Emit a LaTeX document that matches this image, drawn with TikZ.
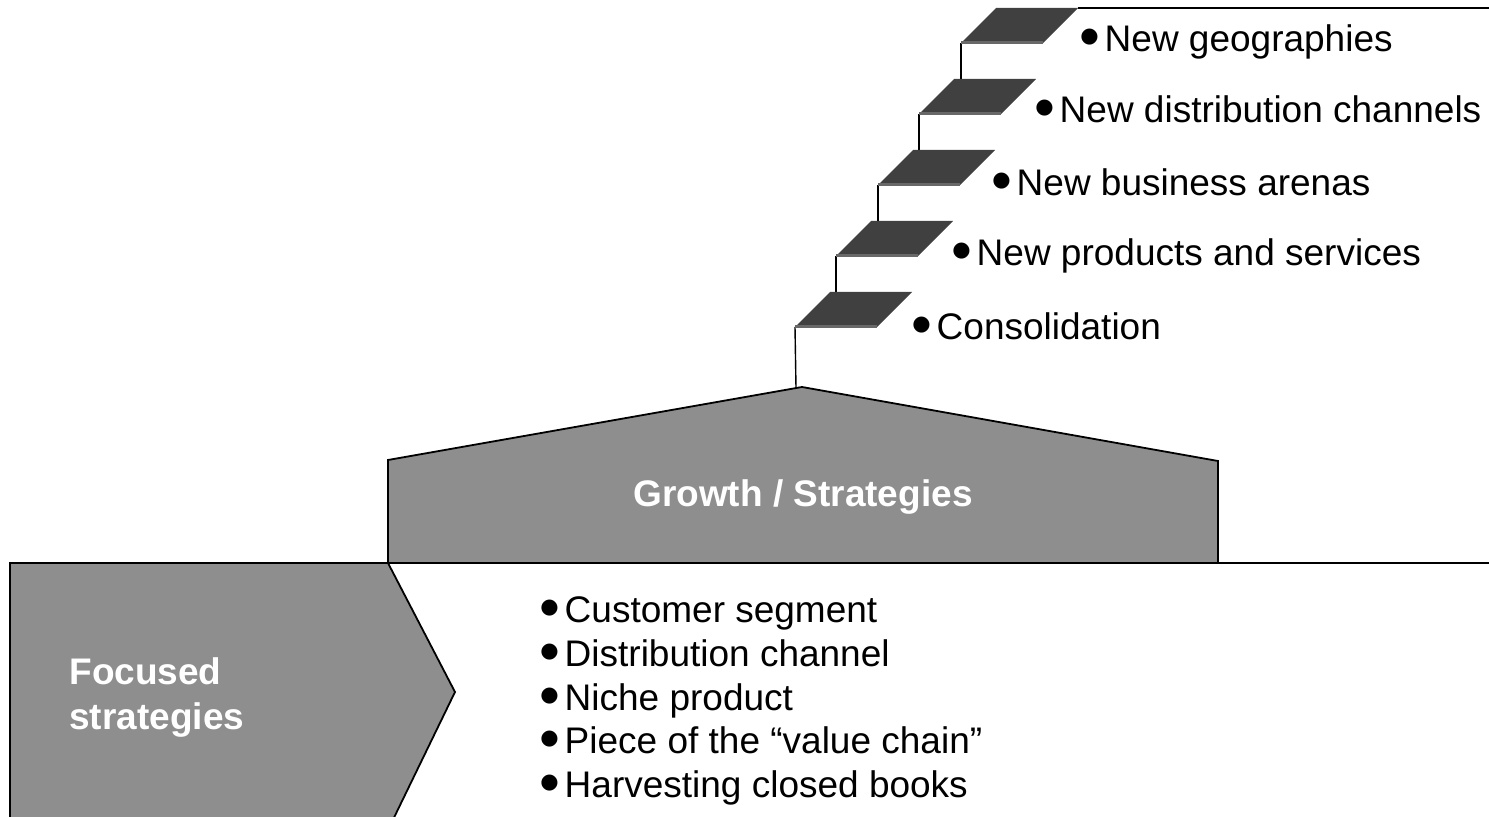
\documentclass[tikz,border=0pt]{standalone}
\usepackage{fontspec}
\setmainfont{Liberation Sans}
\newfontfamily\dotfont{DejaVu Sans}
\usetikzlibrary{positioning}
\definecolor{blockgrey}{HTML}{8E8E8E}
\definecolor{stepdark}{HTML}{404040}
\definecolor{stepedge}{HTML}{686868}
\newcommand{\bigdot}{\raisebox{4.6pt}{\dotfont\fontsize{10.5}{11}\selectfont ●}\hspace{3pt}}

\begin{document}
\begin{tikzpicture}[x=0.5pt, y=-0.5pt,
    block/.style={fill=blockgrey, draw=black, line width=0.9pt, line join=miter},
    tread/.style={fill=stepdark},
    nosing/.style={draw=stepedge, line width=1.5pt},
    riser/.style={draw=black, line width=0.7pt},
    ground/.style={draw=black, line width=1.3pt},
    item/.style={anchor=base west, inner sep=0pt, font=\fontsize{18.5}{22}\selectfont},
    title/.style={text=white, inner sep=0pt, font=\fontsize{18.5}{22}\selectfont\bfseries}
]
\useasboundingbox (0,0) rectangle (1489,817);
\clip (0,0) rectangle (1489,817);

% base blocks
\draw[block] (10,830) -- (10,563) -- (388,563) -- (455,692) -- (388,830);
\draw[block] (388,563) -- (388,460) -- (802,387) -- (1218,461) -- (1218,563) -- cycle;
\draw[ground] (1218,563) -- (1489,563);
\coordinate (roofpt) at (796,388);

\node[title] (growth) at (803,497) {Growth / Strategies};
\node[title, anchor=base west] (focusedA) at (69,685) {Focused};
\node[title, anchor=base west] (focusedB) at (69,729) {strategies};

% stairs
\coordinate (stepone) at (795,327);
\coordinate (steptwo) at (836,256);
\coordinate (stepthree) at (878,185);
\coordinate (stepfour) at (919,114);
\coordinate (stepfive) at (961,43);

\draw[riser] (roofpt) -- (stepone);
\draw[riser] (steptwo) -- ++(0,36);
\draw[riser] (stepthree) -- ++(0,36);
\draw[riser] (stepfour) -- ++(0,36);
\draw[riser] (stepfive) -- ++(0,36);

\fill[tread] (stepone) -- ++(82,0) -- ++(35,-35) -- ++(-82,0) -- cycle;
\fill[tread] (steptwo) -- ++(82,0) -- ++(35,-35) -- ++(-82,0) -- cycle;
\fill[tread] (stepthree) -- ++(82,0) -- ++(35,-35) -- ++(-82,0) -- cycle;
\fill[tread] (stepfour) -- ++(82,0) -- ++(35,-35) -- ++(-82,0) -- cycle;
\fill[tread] (stepfive) -- ++(82,0) -- ++(35,-35) -- ++(-82,0) -- cycle;
\draw[nosing] (stepone) -- ++(82,0);
\draw[nosing] (steptwo) -- ++(82,0);
\draw[nosing] (stepthree) -- ++(82,0);
\draw[nosing] (stepfour) -- ++(82,0);
\draw[nosing] (stepfive) -- ++(82,0);

\coordinate (topedge) at (1078,8);
\coordinate (topend) at (1489,8);
\draw[riser] (topedge) -- (topend);

% step labels
\node[item] (consol) at (912,340) {\bigdot Consolidation};
\node[item] (products) at (952,266) {\bigdot New products and services};
\node[item] (arenas) at (992,196) {\bigdot New business arenas};
\node[item] (channels) at (1035,123) {\bigdot New distribution channels};
\node[item] (geos) at (1080,52) {\bigdot New geographies};

% focused list
\node[item] (segment) at (540,623) {\bigdot Customer segment};
\node[item] (distrib) at (540,667) {\bigdot Distribution channel};
\node[item] (niche) at (540,711) {\bigdot Niche product};
\node[item] (piece) at (540,754) {\bigdot Piece of the “value chain”};
\node[item] (harvest) at (540,798) {\bigdot Harvesting closed books};
\end{tikzpicture}
\end{document}
